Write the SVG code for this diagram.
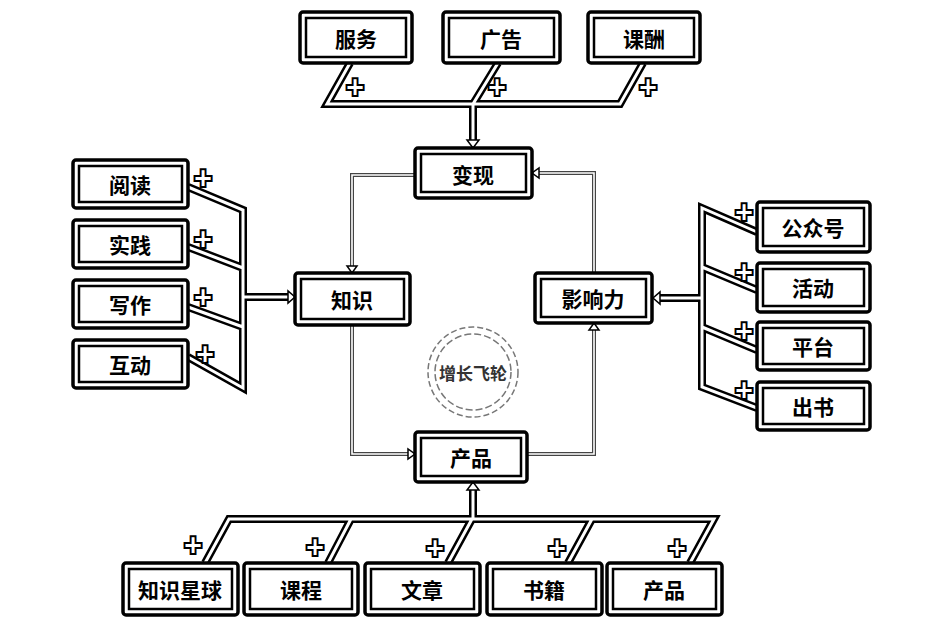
<svg xmlns="http://www.w3.org/2000/svg" width="944" height="634" viewBox="0 0 944 634">
<style>
.o{fill:#fff;stroke:#000;stroke-width:3.5}
.i{fill:#fff;stroke:#000;stroke-width:2.5}
.t{font-family:"Noto Sans CJK SC","Noto Sans",sans-serif;font-weight:bold;font-size:21px;fill:#000;text-anchor:middle;dominant-baseline:central}
.bb{fill:none;stroke:#000;stroke-width:8;stroke-linejoin:miter}
.bw{fill:none;stroke:#fff;stroke-width:3;stroke-linejoin:miter}
.tb{fill:none;stroke:#444;stroke-width:4}
.tw{fill:none;stroke:#fff;stroke-width:1.6}
.ar{fill:#fff;stroke:#000;stroke-width:1.5}
.p{font-family:"DejaVu Sans",sans-serif;font-weight:bold;font-size:24px;fill:#fff;stroke:#000;stroke-width:4;paint-order:stroke;text-anchor:middle;dominant-baseline:central}
</style>
<rect width="944" height="634" fill="#fff"/>

<g id="connectors">
  <path class="bb" d="M350,63 L327,104 L620,104 L643,63 M498,63 L473,104 L473,142"/>
  <path class="bb" d="M188,187 L243,210 L243,388 L188,357 M188,247 L243,268 M188,307 L243,327 M243,297 L290,297"/>
  <path class="bb" d="M757,232 L702,208 L702,387 L757,408 M757,290 L702,267 M757,350 L702,327 M702,298 L658,298"/>
  <path class="bb" d="M205,563 L229,519 L714,519 L690,563 M328,563 L351,519 M448,563 L472,519 M568,563 L592,519 M473,519 L473,488"/>
  <path class="bw" d="M350,63 L327,104 L620,104 L643,63 M498,63 L473,104 L473,142"/>
  <path class="bw" d="M188,187 L243,210 L243,388 L188,357 M188,247 L243,268 M188,307 L243,327 M243,297 L290,297"/>
  <path class="bw" d="M757,232 L702,208 L702,387 L757,408 M757,290 L702,267 M757,350 L702,327 M702,298 L658,298"/>
  <path class="bw" d="M205,563 L229,519 L714,519 L690,563 M328,563 L351,519 M448,563 L472,519 M568,563 L592,519 M473,519 L473,488"/>
  <path class="tb" d="M415,175 L352,175 L352,267 M352,325 L352,454 L409,454 M527,454 L594,454 L594,329 M594,273 L594,173 L538,173"/>
  <path class="tw" d="M415,175 L352,175 L352,267 M352,325 L352,454 L409,454 M527,454 L594,454 L594,329 M594,273 L594,173 L538,173"/>
  <polygon class="ar" points="467,140 479,140 473,148"/>
  <polygon class="ar" points="288,291 288,303 295,297"/>
  <polygon class="ar" points="660,292 660,304 653,298"/>
  <polygon class="ar" points="467,490 479,490 473,482"/>
  <polygon class="ar" points="347,266 357,266 352,273"/>
  <polygon class="ar" points="408,449 408,459 415,454"/>
  <polygon class="ar" points="589,330 599,330 594,323"/>
  <polygon class="ar" points="539,168 539,178 532,173"/>
  <text class="p" x="355" y="87">+</text>
  <text class="p" x="497" y="87">+</text>
  <text class="p" x="648" y="87">+</text>
  <text class="p" x="203" y="178">+</text>
  <text class="p" x="203" y="239">+</text>
  <text class="p" x="203" y="297">+</text>
  <text class="p" x="205" y="354">+</text>
  <text class="p" x="744" y="212">+</text>
  <text class="p" x="744" y="272">+</text>
  <text class="p" x="744" y="331">+</text>
  <text class="p" x="744" y="390">+</text>
  <text class="p" x="193" y="545">+</text>
  <text class="p" x="315" y="547">+</text>
  <text class="p" x="435" y="548">+</text>
  <text class="p" x="557" y="548">+</text>
  <text class="p" x="677" y="548">+</text>
</g>

<g id="flywheel">
  <circle cx="473" cy="372" r="45" fill="none" stroke="#777" stroke-width="1.5" stroke-dasharray="6,3"/>
  <circle cx="473" cy="372" r="38" fill="none" stroke="#777" stroke-width="1.5" stroke-dasharray="7,3"/>
  <text x="473" y="372" style="font-family:'Noto Sans CJK SC',sans-serif;font-weight:bold;font-size:17px;fill:#333;text-anchor:middle;dominant-baseline:central">增长飞轮</text>
</g>

<g id="n-fuwu"><rect class="o" x="300" y="12" width="112" height="51" rx="3"/><rect class="i" x="306" y="18" width="100" height="39"/><text class="t" x="356" y="38">服务</text></g>
<g id="n-guanggao"><rect class="o" x="443" y="12" width="117" height="51" rx="3"/><rect class="i" x="449" y="18" width="105" height="39"/><text class="t" x="501" y="38">广告</text></g>
<g id="n-kechou"><rect class="o" x="588" y="12" width="112" height="51" rx="3"/><rect class="i" x="594" y="18" width="100" height="39"/><text class="t" x="644" y="38">课酬</text></g>

<g id="n-bianxian"><rect class="o" x="415" y="148" width="117" height="50" rx="3"/><rect class="i" x="421" y="154" width="105" height="38"/><text class="t" x="473" y="174">变现</text></g>
<g id="n-zhishi"><rect class="o" x="295" y="273" width="115" height="52" rx="3"/><rect class="i" x="301" y="279" width="103" height="40"/><text class="t" x="352" y="299">知识</text></g>
<g id="n-yingxiangli"><rect class="o" x="535" y="273" width="117" height="50" rx="3"/><rect class="i" x="541" y="279" width="105" height="38"/><text class="t" x="593" y="298">影响力</text></g>
<g id="n-chanpin"><rect class="o" x="415" y="432" width="112" height="50" rx="3"/><rect class="i" x="421" y="438" width="100" height="38"/><text class="t" x="471" y="457">产品</text></g>

<g id="n-yuedu"><rect class="o" x="73" y="160" width="115" height="48" rx="3"/><rect class="i" x="79" y="166" width="103" height="36"/><text class="t" x="130" y="184">阅读</text></g>
<g id="n-shijian"><rect class="o" x="73" y="220" width="115" height="48" rx="3"/><rect class="i" x="79" y="226" width="103" height="36"/><text class="t" x="130" y="244">实践</text></g>
<g id="n-xiezuo"><rect class="o" x="73" y="280" width="115" height="48" rx="3"/><rect class="i" x="79" y="286" width="103" height="36"/><text class="t" x="130" y="304">写作</text></g>
<g id="n-hudong"><rect class="o" x="73" y="340" width="115" height="48" rx="3"/><rect class="i" x="79" y="346" width="103" height="36"/><text class="t" x="130" y="364">互动</text></g>

<g id="n-gongzhonghao"><rect class="o" x="757" y="202" width="113" height="50" rx="3"/><rect class="i" x="763" y="208" width="101" height="38"/><text class="t" x="813" y="227">公众号</text></g>
<g id="n-huodong"><rect class="o" x="757" y="263" width="113" height="49" rx="3"/><rect class="i" x="763" y="269" width="101" height="37"/><text class="t" x="813" y="287">活动</text></g>
<g id="n-pingtai"><rect class="o" x="757" y="322" width="113" height="48" rx="3"/><rect class="i" x="763" y="328" width="101" height="36"/><text class="t" x="813" y="346">平台</text></g>
<g id="n-chushu"><rect class="o" x="757" y="382" width="113" height="48" rx="3"/><rect class="i" x="763" y="388" width="101" height="36"/><text class="t" x="813" y="406">出书</text></g>

<g id="n-zhishixingqiu"><rect class="o" x="123" y="563" width="115" height="52" rx="3"/><rect class="i" x="129" y="569" width="103" height="40"/><text class="t" x="180" y="589">知识星球</text></g>
<g id="n-kecheng"><rect class="o" x="244" y="563" width="114" height="52" rx="3"/><rect class="i" x="250" y="569" width="102" height="40"/><text class="t" x="301" y="589">课程</text></g>
<g id="n-wenzhang"><rect class="o" x="365" y="563" width="115" height="52" rx="3"/><rect class="i" x="371" y="569" width="103" height="40"/><text class="t" x="422" y="589">文章</text></g>
<g id="n-shuji"><rect class="o" x="487" y="563" width="115" height="52" rx="3"/><rect class="i" x="493" y="569" width="103" height="40"/><text class="t" x="544" y="589">书籍</text></g>
<g id="n-chanpin2"><rect class="o" x="607" y="563" width="115" height="52" rx="3"/><rect class="i" x="613" y="569" width="103" height="40"/><text class="t" x="664" y="589">产品</text></g>
</svg>
